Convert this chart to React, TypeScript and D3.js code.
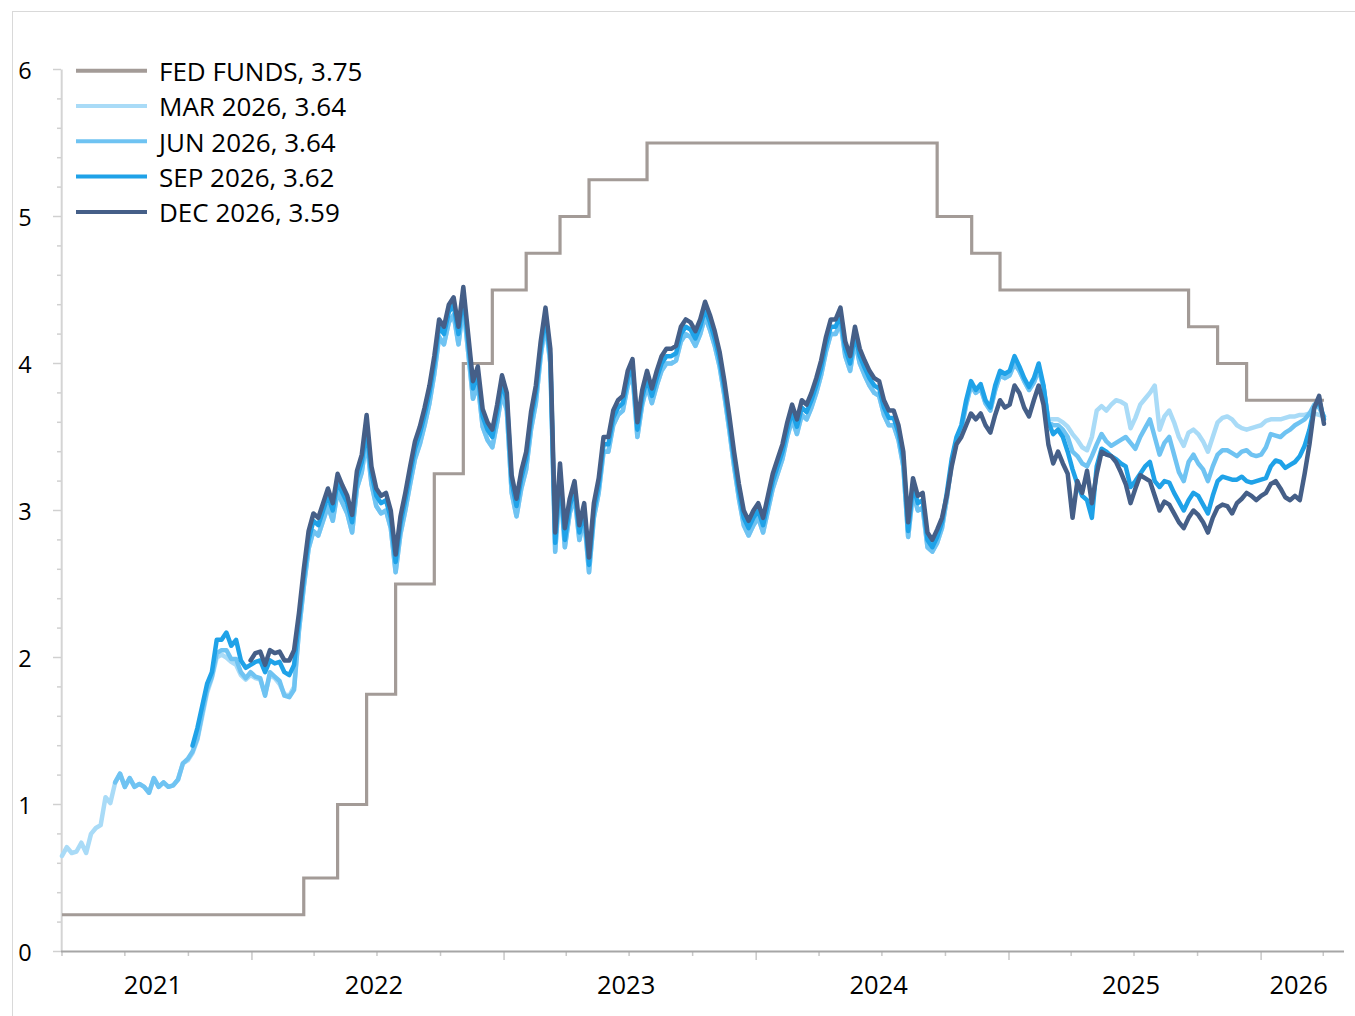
import React from "react";
import * as d3 from "d3";

// Weekly observation dates (Thursdays from 1 Apr 2021)
const weekDates: Date[] = d3.timeDay.range(new Date(2021, 3, 1), new Date(2026, 3, 3), 7);

// Fed funds target (upper bound) change dates and levels
const fedDates = [
  "2021-04-01", "2022-03-17", "2022-05-05", "2022-06-16", "2022-07-28", "2022-09-22",
  "2022-11-03", "2022-12-15", "2023-02-02", "2023-03-23", "2023-05-04", "2023-07-27",
  "2024-09-19", "2024-11-08", "2024-12-19", "2025-09-18", "2025-10-30", "2025-12-11", "2026-04-02",
];
const fedValues = [0.25, 0.5, 1, 1.75, 2.5, 3.25, 4, 4.5, 4.75, 5, 5.25, 5.5, 5, 4.75, 4.5, 4.25, 4, 3.75, 3.75];

// Contract series (weekly), first week index where each contract is listed
const marStart = 0;
const marValues = [
  0.65, 0.71, 0.67, 0.68, 0.74, 0.67, 0.80, 0.84, 0.86, 1.05, 1.01,
  1.15, 1.21, 1.12, 1.18, 1.12, 1.14, 1.12, 1.08, 1.18, 1.12, 1.15, 1.12, 1.13, 1.17, 1.28, 1.30,
  1.35, 1.44, 1.60, 1.76, 1.86, 2.00, 2.02, 2.00, 1.97, 1.95, 1.88, 1.85,
  1.88, 1.86, 1.85, 1.75, 1.88, 1.86, 1.82, 1.75, 1.74, 1.80,
  2.18, 2.48, 2.74, 2.86, 2.83, 2.93, 3.03, 2.93, 3.13, 3.05,
  2.98, 2.85, 3.15, 3.26, 3.48, 3.18, 3.03, 2.98, 3.00, 2.88,
  2.58, 2.84, 3.00, 3.18, 3.35, 3.45, 3.58, 3.73, 3.93, 4.18,
  4.13, 4.28, 4.33, 4.13, 4.40, 4.08, 3.76, 3.86, 3.57, 3.48,
  3.43, 3.60, 3.80, 3.68, 3.12, 2.96, 3.15, 3.28, 3.55, 3.73,
  4.05, 4.28, 4.00, 2.72, 3.20, 2.75, 2.98, 3.10, 2.80, 2.95,
  2.58, 2.95, 3.12, 3.40, 3.40, 3.58, 3.65, 3.68, 3.85, 3.93,
  3.50, 3.72, 3.85, 3.73, 3.85, 3.95, 4.00, 4.00, 4.02, 4.15,
  4.20, 4.18, 4.12, 4.20, 4.32, 4.23, 4.12, 3.98, 3.78, 3.55,
  3.30, 3.08, 2.90, 2.83, 2.90, 2.95, 2.85, 3.00, 3.15, 3.25,
  3.35, 3.50, 3.62, 3.52, 3.65, 3.62, 3.70, 3.80, 3.92, 4.08,
  4.20, 4.20, 4.28, 4.05, 3.95, 4.15, 4.00, 3.92, 3.85, 3.80,
  3.78, 3.65, 3.58, 3.58, 3.48, 3.30, 2.82, 3.12, 3.00, 3.02,
  2.75, 2.72, 2.78, 2.88,
  3.08, 3.32, 3.47, 3.55, 3.72, 3.85, 3.80, 3.83, 3.73, 3.68, 3.82, 3.92, 3.90, 3.92, 4.00, 3.95, 3.88, 3.82, 3.87, 3.96, 3.84,
  3.62, 3.62, 3.62, 3.60, 3.57, 3.52, 3.48, 3.43, 3.41, 3.50,
  3.68, 3.71, 3.68, 3.72, 3.75, 3.74, 3.72, 3.56, 3.63, 3.72,
  3.76, 3.80, 3.85, 3.55, 3.64, 3.68, 3.60, 3.50, 3.44, 3.53,
  3.55, 3.52, 3.47, 3.40, 3.50, 3.60, 3.63, 3.64, 3.62, 3.58,
  3.56, 3.55, 3.56, 3.57, 3.58, 3.61, 3.62, 3.62, 3.62, 3.63,
  3.64, 3.64, 3.65, 3.65, 3.66, 3.66, 3.65, 3.64,
];

const junStart = 11;
const junValues = [
  1.15, 1.21, 1.12, 1.18, 1.12, 1.14, 1.12, 1.08, 1.18, 1.12, 1.15, 1.12, 1.13, 1.17, 1.28, 1.31,
  1.36, 1.45, 1.62, 1.78, 1.87, 2.03, 2.05, 2.05, 1.99, 1.99, 1.90, 1.86,
  1.90, 1.87, 1.86, 1.74, 1.90, 1.87, 1.84, 1.74, 1.73, 1.78,
  2.18, 2.48, 2.74, 2.86, 2.83, 2.93, 3.03, 2.93, 3.13, 3.05,
  2.98, 2.85, 3.15, 3.26, 3.48, 3.18, 3.03, 2.98, 3.00, 2.88,
  2.58, 2.84, 3.00, 3.18, 3.35, 3.45, 3.58, 3.73, 3.93, 4.18,
  4.13, 4.28, 4.33, 4.13, 4.40, 4.08, 3.76, 3.86, 3.57, 3.48,
  3.43, 3.60, 3.80, 3.68, 3.12, 2.96, 3.15, 3.28, 3.55, 3.73,
  4.05, 4.28, 4.00, 2.72, 3.20, 2.75, 2.98, 3.10, 2.80, 2.95,
  2.58, 2.95, 3.12, 3.40, 3.40, 3.58, 3.65, 3.68, 3.85, 3.93,
  3.50, 3.72, 3.85, 3.73, 3.85, 3.95, 4.00, 4.00, 4.02, 4.15,
  4.20, 4.18, 4.12, 4.20, 4.32, 4.23, 4.12, 3.98, 3.78, 3.55,
  3.30, 3.08, 2.90, 2.83, 2.90, 2.95, 2.85, 3.00, 3.15, 3.25,
  3.35, 3.50, 3.62, 3.52, 3.65, 3.62, 3.70, 3.80, 3.92, 4.08,
  4.20, 4.20, 4.28, 4.05, 3.95, 4.15, 4.00, 3.92, 3.85, 3.80,
  3.78, 3.65, 3.58, 3.58, 3.48, 3.30, 2.82, 3.12, 3.00, 3.02,
  2.75, 2.72, 2.78, 2.88,
  3.08, 3.32, 3.47, 3.55, 3.72, 3.85, 3.80, 3.83, 3.73, 3.68, 3.82, 3.92, 3.90, 3.92, 4.00, 3.95, 3.88, 3.82, 3.87, 3.96, 3.84,
  3.60, 3.58, 3.58, 3.55, 3.50, 3.40, 3.37, 3.32, 3.30, 3.37,
  3.45, 3.52, 3.47, 3.44, 3.46, 3.48, 3.50, 3.46, 3.42, 3.50,
  3.56, 3.62, 3.50, 3.38, 3.46, 3.50, 3.38, 3.26, 3.20, 3.33,
  3.38, 3.32, 3.28, 3.20, 3.30, 3.38, 3.41, 3.41, 3.39, 3.37,
  3.40, 3.41, 3.38, 3.37, 3.38, 3.43, 3.52, 3.51, 3.50, 3.53,
  3.55, 3.58, 3.60, 3.62, 3.66, 3.72, 3.70, 3.64,
];

const sepStart = 27;
const sepValues = [
  1.40, 1.52, 1.67, 1.82, 1.90, 2.12, 2.12, 2.17, 2.08, 2.12, 1.98, 1.93,
  1.95, 1.97, 1.98, 1.90, 1.98, 1.96, 1.97, 1.90, 1.88, 1.95,
  2.25, 2.55, 2.80, 2.93, 2.90, 3.00, 3.10, 3.00, 3.20, 3.12,
  3.05, 2.92, 3.22, 3.33, 3.55, 3.25, 3.10, 3.05, 3.07, 2.95,
  2.65, 2.91, 3.07, 3.25, 3.42, 3.52, 3.65, 3.80, 4.00, 4.25,
  4.20, 4.35, 4.40, 4.20, 4.47, 4.15, 3.83, 3.93, 3.64, 3.55,
  3.50, 3.67, 3.87, 3.75, 3.19, 3.03, 3.22, 3.35, 3.62, 3.80,
  4.10, 4.33, 4.05, 2.78, 3.25, 2.80, 3.03, 3.15, 2.85, 3.00,
  2.63, 3.00, 3.17, 3.45, 3.45, 3.63, 3.70, 3.73, 3.90, 3.98,
  3.55, 3.77, 3.90, 3.78, 3.90, 4.00, 4.05, 4.05, 4.07, 4.20,
  4.25, 4.23, 4.17, 4.25, 4.37, 4.28, 4.17, 4.03, 3.83, 3.60,
  3.35, 3.13, 2.95, 2.88, 2.95, 3.00, 2.90, 3.05, 3.20, 3.30,
  3.40, 3.55, 3.67, 3.57, 3.70, 3.67, 3.75, 3.85, 3.97, 4.13,
  4.25, 4.25, 4.33, 4.10, 4.00, 4.20, 4.05, 3.97, 3.90, 3.85,
  3.83, 3.70, 3.63, 3.63, 3.53, 3.35, 2.86, 3.17, 3.05, 3.07,
  2.80, 2.75, 2.82, 2.92,
  3.12, 3.35, 3.50, 3.58, 3.75, 3.88, 3.82, 3.86, 3.75, 3.70, 3.85, 3.95, 3.93, 3.95, 4.05, 3.98, 3.90, 3.84, 3.90, 4.00, 3.85,
  3.60, 3.52, 3.55, 3.50, 3.40, 3.28, 3.18, 3.10, 3.07, 2.95,
  3.30, 3.42, 3.40, 3.37, 3.35, 3.32, 3.30, 3.16, 3.20, 3.25,
  3.30, 3.33, 3.20, 3.16, 3.20, 3.19, 3.12, 3.06, 3.00, 3.07,
  3.12, 3.10, 3.04, 2.98, 3.10, 3.20, 3.23, 3.22, 3.21, 3.21,
  3.23, 3.20, 3.19, 3.20, 3.21, 3.22, 3.30, 3.34, 3.33, 3.29,
  3.31, 3.33, 3.37, 3.44, 3.55, 3.70, 3.75, 3.62,
];

const decStart = 39;
const decValues = [
  1.98, 2.03, 2.04, 1.95, 2.05, 2.03, 2.04, 1.98, 1.98, 2.05,
  2.30, 2.60, 2.86, 2.98, 2.95, 3.05, 3.15, 3.05, 3.25, 3.17,
  3.10, 2.97, 3.27, 3.38, 3.65, 3.30, 3.15, 3.10, 3.12, 3.00,
  2.70, 2.96, 3.12, 3.30, 3.47, 3.57, 3.70, 3.85, 4.05, 4.30,
  4.25, 4.40, 4.45, 4.25, 4.52, 4.20, 3.88, 3.98, 3.69, 3.60,
  3.55, 3.72, 3.92, 3.80, 3.24, 3.08, 3.27, 3.40, 3.67, 3.85,
  4.15, 4.38, 4.10, 2.85, 3.32, 2.88, 3.08, 3.20, 2.90, 3.05,
  2.68, 3.05, 3.22, 3.50, 3.50, 3.68, 3.75, 3.78, 3.95, 4.03,
  3.60, 3.82, 3.95, 3.83, 3.95, 4.05, 4.10, 4.10, 4.12, 4.25,
  4.30, 4.28, 4.22, 4.30, 4.42, 4.33, 4.22, 4.08, 3.88, 3.65,
  3.40, 3.18, 3.00, 2.93, 3.00, 3.05, 2.95, 3.10, 3.25, 3.35,
  3.45, 3.60, 3.72, 3.62, 3.75, 3.72, 3.80, 3.90, 4.02, 4.18,
  4.30, 4.30, 4.38, 4.15, 4.05, 4.25, 4.10, 4.02, 3.95, 3.90,
  3.88, 3.75, 3.68, 3.68, 3.58, 3.40, 2.92, 3.22, 3.10, 3.12,
  2.85, 2.80, 2.87, 2.95, 3.10, 3.30, 3.45, 3.50, 3.58, 3.66,
  3.62, 3.66, 3.58, 3.53, 3.65, 3.75, 3.70, 3.72, 3.85, 3.80,
  3.70, 3.64, 3.75, 3.85, 3.72, 3.45, 3.32, 3.40, 3.32, 3.25,
  2.95, 3.20, 3.12, 3.27, 3.05, 3.25, 3.40, 3.38, 3.37, 3.33,
  3.26, 3.18, 3.05, 3.15, 3.24, 3.22, 3.20, 3.10, 3.00, 3.06,
  3.04, 2.98, 2.92, 2.88, 2.95, 3.00, 2.97, 2.92, 2.85, 2.95,
  3.02, 3.04, 3.03, 2.98, 3.05, 3.08, 3.12, 3.10, 3.07, 3.10,
  3.12, 3.18, 3.20, 3.15, 3.09, 3.07, 3.10, 3.07, 3.25, 3.45,
  3.70, 3.78, 3.59,
];

const legendLabels = ["FED FUNDS, 3.75", "MAR 2026, 3.64", "JUN 2026, 3.64", "SEP 2026, 3.62", "DEC 2026, 3.59"];
const legendColors = ["#a39b97", "#a9dbf7", "#6fc3f2", "#1fa2e8", "#455f88"];
const yearLabels = ["2021", "2022", "2023", "2024", "2025", "2026"];

const FONT = "'Open Sans', 'Noto Sans', sans-serif";

type Pt = { date: Date; value: number };

export default function App() {
  const W = 1355;
  const H = 1016;
  const domainStart = new Date(2021, 3, 1);
  const domainEnd = new Date(2026, 4, 1);
  const x = d3.scaleTime().domain([domainStart, domainEnd]).range([62, 1344]);
  const y = d3.scaleLinear().domain([0, 6]).range([951.5, 69.5]);

  const parse = d3.timeParse("%Y-%m-%d");
  const fedPts: Pt[] = fedDates.map((d, i) => ({ date: parse(d) as Date, value: fedValues[i] }));

  const mk = (start: number, vals: number[]): Pt[] =>
    vals.map((v, k) => ({ date: weekDates[start + k], value: v })).filter((p) => p.date);

  const series = [
    { pts: mk(marStart, marValues), color: legendColors[1] },
    { pts: mk(junStart, junValues), color: legendColors[2] },
    { pts: mk(sepStart, sepValues), color: legendColors[3] },
    { pts: mk(decStart, decValues), color: legendColors[4] },
  ];

  const line = d3
    .line<Pt>()
    .x((d) => x(d.date))
    .y((d) => y(d.value))
    .curve(d3.curveLinear);
  const stepLine = d3
    .line<Pt>()
    .x((d) => x(d.date))
    .y((d) => y(d.value))
    .curve(d3.curveStepAfter);

  const quarterTicks = d3.timeMonth.every(3)!.range(domainStart, new Date(2026, 4, 2));
  const majorY = d3.range(0, 7);
  const minorY = d3.range(0, 30).map((k) => k * 0.2).filter((v) => Math.abs(v - Math.round(v)) > 1e-6);

  const yearCenters = yearLabels.map((yl) => {
    const yr = +yl;
    const a = Math.max(+new Date(yr, 0, 1), +domainStart);
    const b = Math.min(+new Date(yr + 1, 0, 1), +domainEnd);
    return (x(new Date(a)) + x(new Date(b))) / 2 - 4;
  });

  const legendRowY = (i: number) => 70.7 + i * 35.3;

  return (
    <svg
      width={W}
      height={H}
      style={{ position: "absolute", left: 0, top: 0, background: "#ffffff" }}
      fontFamily={FONT}
    >
      <rect x={0} y={0} width={W} height={H} fill="#ffffff" />
      <rect x={12.5} y={11.5} width={1400} height={1100} fill="none" stroke="#d9d9d9" strokeWidth={1} />

      {/* Y axis */}
      <line x1={61.7} x2={61.7} y1={y(6)} y2={y(0)} stroke="#d4d4d4" strokeWidth={2} />
      {minorY.map((v) => (
        <line key={"mn" + v} x1={57} x2={61} y1={y(v)} y2={y(v)} stroke="#d0d0d0" strokeWidth={1.5} />
      ))}
      {majorY.map((v) => (
        <g key={"mj" + v}>
          <line x1={53} x2={61} y1={y(v)} y2={y(v)} stroke="#d0d0d0" strokeWidth={1.5} />
          <text x={25} y={y(v) + 9.5} textAnchor="middle" fontSize={23.5} fill="#000">
            {v}
          </text>
        </g>
      ))}

      {/* X axis */}
      {quarterTicks.map((d) => (
        <line
          key={"xt" + +d}
          x1={x(d)}
          x2={x(d)}
          y1={951.5}
          y2={d.getMonth() === 0 ? 960 : 956}
          stroke="#c8c8c8"
          strokeWidth={1.5}
        />
      ))}
      <line x1={61} x2={1344} y1={951.5} y2={951.5} stroke="#a6a6a6" strokeWidth={2.2} />
      {yearLabels.map((yl, i) => (
        <text key={yl} x={yearCenters[i]} y={994} textAnchor="middle" fontSize={25.5} fill="#000">
          {yl}
        </text>
      ))}

      {/* Fed funds */}
      <path d={stepLine(fedPts) || ""} fill="none" stroke={legendColors[0]} strokeWidth={3.2} />

      {/* Contract series */}
      {series.map((s, i) => (
        <path
          key={"s" + i}
          d={line(s.pts) || ""}
          fill="none"
          stroke={s.color}
          strokeWidth={4.5}
          strokeLinejoin="round"
          strokeLinecap="round"
        />
      ))}

      {/* Legend */}
      {legendLabels.map((lbl, i) => (
        <g key={lbl}>
          <line x1={76} x2={147} y1={legendRowY(i)} y2={legendRowY(i)} stroke={legendColors[i]} strokeWidth={4} />
          <text x={159} y={legendRowY(i) + 10.3} fontSize={26} fill="#000">
            {lbl}
          </text>
        </g>
      ))}
    </svg>
  );
}
